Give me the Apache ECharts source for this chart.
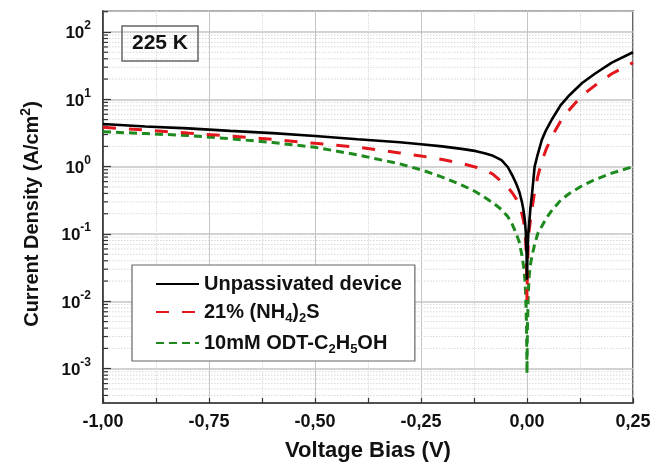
<!DOCTYPE html>
<html>
<head>
<meta charset="utf-8">
<script src="https://cdn.jsdelivr.net/npm/echarts@6/dist/echarts.min.js"></script>
<style>html,body{margin:0;padding:0;background:#fff;}#c{width:652px;height:470px;}</style>
</head>
<body>
<div id="c"></div>
<script>
// Voltage bias (V)
const voltage = [-1.0, -0.9, -0.8, -0.7, -0.6, -0.5, -0.4, -0.3, -0.25, -0.2, -0.15, -0.12, -0.1, -0.08, -0.06, -0.045, -0.035, -0.025, -0.018, -0.012, -0.008, -0.005, -0.003, -0.001, 0, 0.001, 0.003, 0.005, 0.008, 0.012, 0.018, 0.025, 0.035, 0.045, 0.06, 0.08, 0.1, 0.13, 0.16, 0.2, 0.25];
// Current density (A/cm^2)
const unpassivated = [4.3, 3.95, 3.7, 3.4, 3.15, 2.85, 2.55, 2.3, 2.15, 2.0, 1.82, 1.7, 1.58, 1.45, 1.25, 0.98, 0.75, 0.55, 0.42, 0.3, 0.22, 0.16, 0.11, 0.05, 0.021, 0.05, 0.1, 0.14, 0.24, 0.4, 1.0, 1.5, 2.5, 3.5, 5.2, 8.3, 11.5, 17.5, 24, 35, 50];
const nh4s = [3.84, 3.5, 3.15, 2.85, 2.55, 2.22, 1.95, 1.6, 1.44, 1.28, 1.1, 0.98, 0.9, 0.77, 0.6, 0.49, 0.41, 0.33, 0.26, 0.2, 0.155, 0.115, 0.075, 0.035, 0.0105, 0.03, 0.07, 0.11, 0.16, 0.24, 0.42, 0.7, 1.2, 1.8, 2.9, 4.8, 7.0, 11.5, 16, 24, 35];
const odt = [3.3, 3.1, 2.9, 2.6, 2.28, 1.94, 1.5, 1.1, 0.9, 0.7, 0.52, 0.42, 0.35, 0.29, 0.23, 0.18, 0.14, 0.1, 0.075, 0.048, 0.033, 0.021, 0.012, 0.004, 0.00085, 0.004, 0.013, 0.023, 0.035, 0.048, 0.07, 0.1, 0.13, 0.17, 0.23, 0.32, 0.4, 0.52, 0.64, 0.8, 1.0];

const seriesNames = ['Unpassivated device', '21% (NH4)2S', '10mM ODT-C2H5OH'];
const legendLabels = ['{b|Unpassivated device}', '{b|21% (NH}{s|4}{b|)}{s|2}{b|S}', '{b|10mM ODT-C}{s|2}{b|H}{s|5}{b|OH}'];
const tempLabel = '225 K';
const xTicks = [-1.0, -0.75, -0.5, -0.25, 0.0, 0.25];
const yMin = 3.09e-4, yMax = 205;
const yMinorFactors = [2, 3, 4, 5, 6, 7, 8, 9];
const yDecades = [-4, -3, -2, -1, 0, 1, 2];
const yMinor = [];
yDecades.forEach(d => yMinorFactors.forEach(f => { const v = f * Math.pow(10, d); if (v > yMin && v < yMax) yMinor.push(v); }));

const pairs = arr => voltage.map((v, i) => [v, arr[i]]);
const chart = echarts.init(document.getElementById('c'), null, {renderer: 'canvas'});
const FONT = 'Liberation Sans';
chart.setOption({
  animation: false,
  backgroundColor: '#fff',
  textStyle: {fontFamily: FONT},
  title: {
    text: tempLabel, left: 122, top: 26,
    padding: [7, 10, 7, 10],
    borderColor: '#666', borderWidth: 1.5,
    textStyle: {fontFamily: FONT, fontSize: 21, fontWeight: 'bold', color: '#111'}
  },
  legend: {
    data: seriesNames, orient: 'vertical', left: 132, top: 265,
    padding: [9, 13, 5, 23], itemGap: 8, itemWidth: 43, itemHeight: 14,
    borderColor: '#666', borderWidth: 1.2, backgroundColor: '#fff',
    itemStyle: {opacity: 0},
    formatter: name => legendLabels[seriesNames.indexOf(name)],
    textStyle: {
      fontFamily: FONT, color: '#111',
      rich: {
        b: {fontFamily: FONT, fontSize: 20, fontWeight: 'bold', color: '#111', lineHeight: 26},
        s: {fontFamily: FONT, fontSize: 13, fontWeight: 'bold', color: '#111', lineHeight: 12, verticalAlign: 'bottom'}
      }
    }
  },
  grid: {left: 103, right: 19, top: 11, bottom: 67, show: true, borderColor: '#333', borderWidth: 1.5, outerBoundsMode: 'none', containLabel: false},
  xAxis: {
    type: 'value', min: -1, max: 0.25, interval: 0.25,
    name: 'Voltage Bias (V)', nameLocation: 'middle', nameGap: 37,
    nameTextStyle: {fontFamily: FONT, fontSize: 22, fontWeight: 'bold', color: '#111'},
    axisLine: {show: true, onZero: false, lineStyle: {color: '#333', width: 1.5}},
    axisTick: {show: true, inside: true, length: 5, lineStyle: {color: '#333', width: 1.2}},
    minorTick: {show: true, splitNumber: 2, length: 5, lineStyle: {color: '#333', width: 1.2}},
    axisLabel: {margin: 10, fontFamily: FONT, fontSize: 18, fontWeight: 'bold', color: '#111',
      formatter: v => v.toFixed(2).replace('.', ',')},
    splitLine: {show: true, lineStyle: {color: '#c4c4c4', width: 1}},
    minorSplitLine: {show: true, lineStyle: {color: '#d8d8d8', width: 1, type: 'dotted'}}
  },
  yAxis: {
    type: 'log', logBase: 10, min: yMin, max: yMax,
    name: '{t|Current Density (A/cm}{s|2}{t|)}', nameLocation: 'middle', nameGap: 58,
    nameTextStyle: {
      padding: [0, 14, 0, 0],
      rich: {
        t: {fontFamily: FONT, fontSize: 20, fontWeight: 'bold', color: '#111', lineHeight: 26},
        s: {fontFamily: FONT, fontSize: 14, fontWeight: 'bold', color: '#111', lineHeight: 12, verticalAlign: 'top'}
      }
    },
    axisLine: {show: true, onZero: false, lineStyle: {color: '#333', width: 1.5}},
    axisTick: {show: true, inside: true, length: 8, lineStyle: {color: '#333', width: 1.2}},
    axisLabel: {
      margin: 12, showMinLabel: false, showMaxLabel: false,
      formatter: v => {
        const e = Math.log10(v); const r = Math.round(e);
        if (Math.abs(e - r) > 1e-6) return '';
        return '{b|10}{s|' + r + '}';
      },
      rich: {
        b: {fontFamily: FONT, fontSize: 17, fontWeight: 'bold', color: '#111', lineHeight: 24, padding: [3, 0, 0, 0]},
        s: {fontFamily: FONT, fontSize: 12, fontWeight: 'bold', color: '#111', lineHeight: 8, verticalAlign: 'top'}
      }
    },
    splitLine: {show: true, lineStyle: {color: '#c4c4c4', width: 1.6}}
  },
  series: [
    {
      type: 'custom', name: 'minor', silent: true, z: 1,
      data: yMinor.map(v => [-1, v]),
      renderItem: (params, api) => {
        const cs = params.coordSys;
        const y = api.coord([api.value(0), api.value(1)])[1];
        return {type: 'group', children: [
          {type: 'line', shape: {x1: cs.x, y1: y, x2: cs.x + cs.width, y2: y}, style: {stroke: '#d8d8d8', lineWidth: 1, lineDash: [1.5, 1.5]}},
          {type: 'line', shape: {x1: cs.x, y1: y, x2: cs.x + 5, y2: y}, style: {stroke: '#333', lineWidth: 1.2}}
        ]};
      }
    },
    {name: seriesNames[0], type: 'line', data: pairs(unpassivated), showSymbol: false, symbol: 'none', z: 4,
      lineStyle: {color: '#000', width: 2.6}, itemStyle: {color: '#000'}},
    {name: seriesNames[1], type: 'line', data: pairs(nh4s), showSymbol: false, symbol: 'none', z: 3,
      lineStyle: {color: '#e3161c', width: 3, type: [13, 13]}, itemStyle: {color: '#e3161c'}},
    {name: seriesNames[2], type: 'line', data: pairs(odt), showSymbol: false, symbol: 'none', z: 2,
      lineStyle: {color: '#1e8a1e', width: 3, type: [8, 5]}, itemStyle: {color: '#1e8a1e'}}
  ]
});
</script>
</body>
</html>
